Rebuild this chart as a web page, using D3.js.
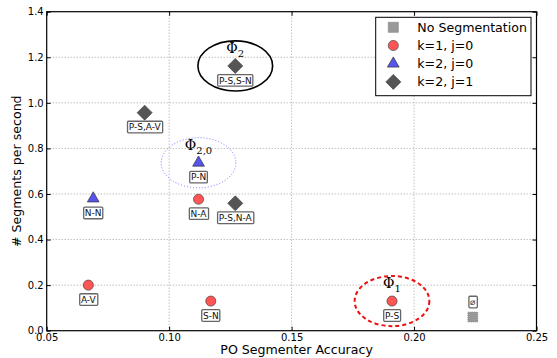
<!DOCTYPE html>
<html>
<head>
<meta charset="utf-8">
<script src="https://cdn.jsdelivr.net/npm/d3@7"></script>
<style>
  html, body { margin: 0; padding: 0; background: #fff; }
  svg { display: block; font-family: "DejaVu Sans", sans-serif; }
</style>
</head>
<body>
<svg id="chart" width="557" height="358"></svg>
<script>
// Configurations: [accuracy, segments per second, label]
const noSegmentation = [[0.224, 0.06, "\u2300"]];
const k1j0 = [[0.067, 0.20, "A-V"], [0.117, 0.13, "S-N"], [0.112, 0.577, "N-A"], [0.191, 0.13, "P-S"]];
const k2j0 = [[0.069, 0.58, "N-N"], [0.112, 0.737, "P-N"]];
const k2j1 = [[0.090, 0.957, "P-S,A-V"], [0.127, 0.559, "P-S,N-A"], [0.127, 1.162, "P-S,S-N"]];

const xTicks = [0.05, 0.10, 0.15, 0.20, 0.25];
const yTicks = [0.0, 0.2, 0.4, 0.6, 0.8, 1.0, 1.2, 1.4];

// Highlighted groups: centre, symbol subscript, outline style
const groups = [
  { cx: 0.127, cy: 1.162, sub: "2", stroke: "#000", dash: null, width: 1.6 },
  { cx: 0.112, cy: 0.737, sub: "2,0", stroke: "#7777ff", dash: "1,2", width: 1 },
  { cx: 0.191, cy: 0.13, sub: "1", stroke: "#ee1111", dash: "4,3", width: 2 }
];

const series = [
  { name: "No Segmentation", data: noSegmentation, shape: "square", fill: "#999999", stroke: "#888", labelAbove: true },
  { name: "k=1, j=0", data: k1j0, shape: "circle", fill: "#ff5555", stroke: "#444" },
  { name: "k=2, j=0", data: k2j0, shape: "triangle", fill: "#5555ee", stroke: "#333" },
  { name: "k=2, j=1", data: k2j1, shape: "diamond", fill: "#555555", stroke: "#444" }
];

const svg = d3.select("#chart");
const m = { left: 46.7, right: 536.5, top: 11.7, bottom: 330.7 };
const x = d3.scaleLinear().domain([0.05, 0.25]).range([m.left, m.right]);
const y = d3.scaleLinear().domain([0, 1.4]).range([m.bottom, m.top]);

// Grid
const grid = svg.append("g");
grid.selectAll(".gx").data(xTicks.slice(1, -1)).join("line")
  .attr("x1", d => x(d)).attr("x2", d => x(d)).attr("y1", m.top).attr("y2", m.bottom)
  .attr("stroke", "#000").attr("stroke-width", 0.6).attr("stroke-dasharray", "1,2").attr("opacity", 0.6);
grid.selectAll(".gy").data(yTicks.slice(1, -1)).join("line")
  .attr("y1", d => y(d)).attr("y2", d => y(d)).attr("x1", m.left).attr("x2", m.right)
  .attr("stroke", "#000").attr("stroke-width", 0.6).attr("stroke-dasharray", "1,2").attr("opacity", 0.6);

// Axes with inward ticks on all sides
const fmt = d3.format(".2f");
const fmtY = d3.format(".1f");
function styleAxis(g) {
  g.select(".domain").remove();
  g.selectAll("text").attr("font-family", "DejaVu Sans").attr("font-size", 10).attr("fill", "#000");
  g.selectAll("line").attr("stroke", "#000");
}
svg.append("g").attr("transform", `translate(0,${m.bottom})`)
  .call(d3.axisBottom(x).tickValues(xTicks).tickFormat(fmt).tickSize(-4).tickPadding(3)).call(styleAxis);
svg.append("g").attr("transform", `translate(0,${m.top})`)
  .call(d3.axisTop(x).tickValues(xTicks).tickFormat("").tickSize(-4)).call(styleAxis);
svg.append("g").attr("transform", `translate(${m.left},0)`)
  .call(d3.axisLeft(y).tickValues(yTicks).tickFormat(fmtY).tickSize(-4).tickPadding(3)).call(styleAxis);
svg.append("g").attr("transform", `translate(${m.right},0)`)
  .call(d3.axisRight(y).tickValues(yTicks).tickFormat("").tickSize(-4)).call(styleAxis);

svg.append("rect").attr("x", m.left).attr("y", m.top)
  .attr("width", m.right - m.left).attr("height", m.bottom - m.top)
  .attr("fill", "none").attr("stroke", "#000").attr("stroke-width", 1.2);

// Axis titles
svg.append("text").attr("x", (m.left + m.right) / 2 + 5).attr("y", 354.3)
  .attr("text-anchor", "middle").attr("font-size", 12.6).text("PO Segmenter Accuracy");
svg.append("text").attr("transform", `translate(21,${(m.top + m.bottom) / 2}) rotate(-90)`)
  .attr("text-anchor", "middle").attr("font-size", 12.6).text("# Segments per second");

// Marker paths
const sym = {
  square: d3.symbol(d3.symbolSquare, 100),
  circle: d3.symbol(d3.symbolCircle, 80),
  triangle: d3.symbol(d3.symbolTriangle, 60)
};
function markerPath(shape) {
  if (shape === "diamond") return "M0,-7.5L7.5,0L0,7.5L-7.5,0Z";
  return sym[shape]();
}

// Group outlines with their symbols
groups.forEach(gp => {
  const rx = Math.abs(x(0.05 + 0.0305) - x(0.05)) / 2;
  const ry = Math.abs(y(0) - y(0.22)) / 2;
  svg.append("ellipse").attr("cx", x(gp.cx)).attr("cy", y(gp.cy))
    .attr("rx", rx).attr("ry", ry).attr("fill", "none")
    .attr("stroke", gp.stroke).attr("stroke-width", gp.width)
    .attr("stroke-dasharray", gp.dash);
  const t = svg.append("text").attr("x", x(gp.cx)).attr("y", y(gp.cy) - 13)
    .attr("text-anchor", "middle").attr("font-family", "DejaVu Serif").attr("font-size", 14);
  t.append("tspan").text("\u03A6");
  t.append("tspan").attr("font-size", 10).attr("dy", 4).text(gp.sub);
});

// Points and their labels
series.forEach(s => {
  const g = svg.append("g");
  s.data.forEach(([vx, vy, lab]) => {
    const px = x(vx), py = y(vy);
    const lg = g.append("g").attr("transform", `translate(${px},${py + (s.labelAbove ? -15 : 14.4)})`);
    const tx = lg.append("text").attr("text-anchor", "middle").attr("dy", "0.36em")
      .attr("font-size", 9).attr("fill", "#111").text(lab);
    const bb = tx.node().getBBox();
    lg.insert("rect", "text").attr("x", bb.x - 1.2).attr("y", -5.8)
      .attr("width", bb.width + 2.4).attr("height", 11.6)
      .attr("fill", "#fff").attr("stroke", "#666").attr("stroke-width", 1.3).attr("rx", 1);
    g.append("path").attr("d", markerPath(s.shape))
      .attr("transform", `translate(${px},${py})`)
      .attr("fill", s.fill).attr("stroke", s.stroke).attr("stroke-width", 0.7)
      .attr("stroke-dasharray", s.shape === "square" ? "1,1" : null);
  });
});

// Legend
const leg = svg.append("g");
leg.append("rect").attr("x", 375.7).attr("y", 17.3).attr("width", 155.3).attr("height", 78.4)
  .attr("fill", "#fff").attr("stroke", "#000").attr("stroke-width", 1);
series.forEach((s, i) => {
  const ly = 27.3 + i * 18.2;
  leg.append("path").attr("d", markerPath(s.shape))
    .attr("transform", `translate(393.3,${ly})`)
    .attr("fill", s.fill).attr("stroke", s.stroke).attr("stroke-width", 0.7);
  leg.append("text").attr("x", 417.3).attr("y", ly).attr("dy", "0.36em")
    .attr("font-size", 12.6).text(s.name);
});
</script>
</body>
</html>
